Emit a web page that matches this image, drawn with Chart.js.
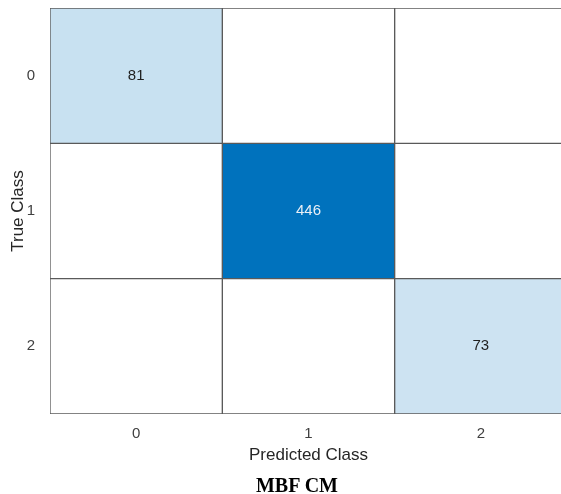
<!DOCTYPE html>
<html lang="en">
<head>
<meta charset="UTF-8">
<title>MBF CM</title>
<script src="https://cdn.jsdelivr.net/npm/chart.js"></script>
<style>
    body { margin: 0; overflow: hidden; background: #fff; }
    #box { position: relative; width: 580px; height: 494px; }
    #caption {
        position: absolute; left: 0; top: 475px; width: 594px;
        text-align: center; font: bold 20px "Liberation Serif", "Times New Roman", serif;
        line-height: 20px; color: #000;
    }
</style>
</head>
<body>
<div id="box">
    <canvas id="cm"></canvas>
    <div id="caption">MBF CM</div>
</div>
<script>
// confusion matrix data
var predictedLabels = ["0", "1", "2"];
var trueLabels = ["0", "1", "2"];
var row0 = [81, 0, 0];
var row1 = [0, 446, 0];
var row2 = [0, 0, 73];
var counts = [row0, row1, row2];

var maxCount = Math.max.apply(null, counts.flat());

// white -> matlab blue
function cellColor(v) {
    if (v == 0) return "#ffffff";
    var t = Math.pow(v / maxCount, 0.9);
    var r = Math.round(255 - t * 255);
    var g = Math.round(255 - t * (255 - 114));
    var b = Math.round(255 - t * (255 - 189));
    return "rgb(" + r + "," + g + "," + b + ")";
}

var datasets = counts.map(function (row, r) {
    return {
        label: "True " + trueLabels[r],
        data: row.map(function () { return [r, r + 1]; }),
        backgroundColor: row.map(cellColor),
        borderColor: "#5a5a5a",
        borderWidth: 1,
        borderSkipped: false,
        grouped: false,
        barPercentage: 1,
        categoryPercentage: 1
    };
});

// numbers in the cells
const cellText = {
    id: "cellText",
    afterDatasetsDraw(chart) {
        const ctx = chart.ctx;
        ctx.save();
        ctx.font = "15px 'Liberation Sans', Arial, sans-serif";
        ctx.textAlign = "center";
        ctx.textBaseline = "middle";
        chart.data.datasets.forEach(function (ds, r) {
            chart.getDatasetMeta(r).data.forEach(function (el, c) {
                var v = counts[r][c];
                if (!v) return;
                var p = el.getProps(["x", "y", "base"], true);
                ctx.fillStyle = v / maxCount > 0.5 ? "#e9eff6" : "#1f1f1f";
                ctx.fillText(String(v), p.x, (p.y + p.base) / 2);
            });
        });
        ctx.restore();
    }
};

new Chart(document.getElementById("cm"), {
    type: "bar",
    data: { labels: predictedLabels, datasets: datasets },
    options: {
        responsive: true,
        maintainAspectRatio: false,
        animation: false,
        layout: { padding: { top: 8, right: 13, left: 0, bottom: 0 } },
        plugins: { legend: { display: false }, tooltip: { enabled: false } },
        scales: {
            x: {
                grid: { display: false },
                border: { display: false },
                ticks: { color: "#404040", padding: 3, font: { family: "'Liberation Sans', Arial", size: 15 } },
                title: {
                    display: true, text: "Predicted Class", color: "#262626",
                    font: { family: "'Liberation Sans', Arial", size: 17 },
                    padding: { top: 0, bottom: 28 }
                },
                afterFit: function (s) { s.height = 80; s.paddingLeft = 0; s.paddingRight = 0; }
            },
            y: {
                min: 0, max: 3, reverse: true,
                grid: { display: false },
                border: { display: false },
                afterBuildTicks: function (s) {
                    s.ticks = trueLabels.map(function (l, i) { return { value: i + 0.5 }; });
                },
                ticks: {
                    color: "#404040", padding: 7,
                    font: { family: "'Liberation Sans', Arial", size: 15 },
                    callback: function (v) { return trueLabels[Math.floor(v)]; }
                },
                title: {
                    display: true, text: "True Class", color: "#262626",
                    font: { family: "'Liberation Sans', Arial", size: 17 },
                    padding: { top: 8, bottom: 0 }
                },
                afterFit: function (s) { s.width = 50; s.paddingTop = 0; s.paddingBottom = 0; }
            }
        }
    },
    plugins: [cellText]
});
</script>
</body>
</html>
